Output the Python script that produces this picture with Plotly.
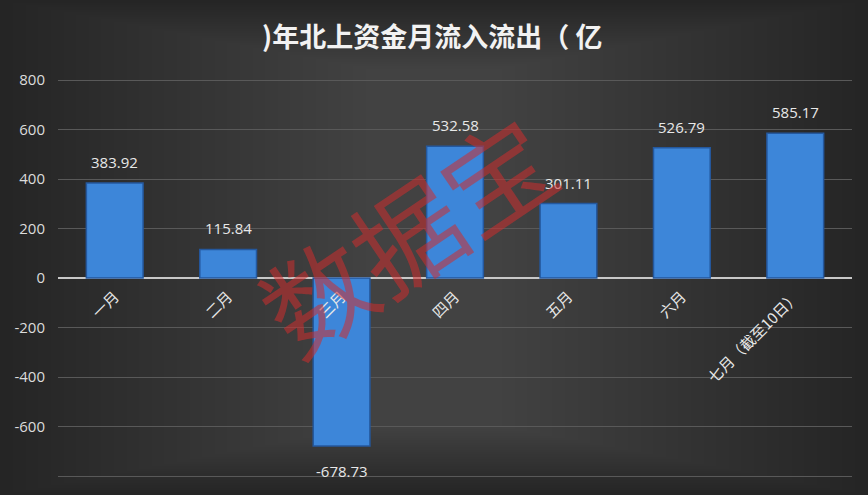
import plotly.graph_objects as go

categories = ["一月", "二月", "三月", "四月", "五月", "六月", "七月（截至10日）"]
values = [383.92, 115.84, -678.73, 532.58, 301.11, 526.79, 585.17]
value_labels = ["383.92", "115.84", "-678.73", "532.58", "301.11", "526.79", "585.17"]
y_tickvals = [-800, -600, -400, -200, 0, 200, 400, 600, 800]
y_ticktext = ["", "-600", "-400", "-200", "0", "200", "400", "600", "800"]
title_text = ")年北上资金月流入流出（ 亿"

W, H = 868, 495
mt, mb, ml, mr = 60, 10, 58, 16
y_lo, y_hi = -836, 881

fig = go.Figure()
fig.add_trace(go.Bar(
    x=categories, y=values, width=0.5,
    marker=dict(color="#3d86d9", line=dict(color="#24589e", width=1.5)),
))

# value labels, offset from the bar ends
for c, v, t in zip(categories, values, value_labels):
    fig.add_annotation(x=c, y=v, text=t, showarrow=False,
                       yanchor="bottom" if v >= 0 else "top",
                       yshift=9 if v >= 0 else -13,
                       font=dict(color="#e8e8e8", size=15, family="Open Sans"))

# background vignette
shapes = []
n = 30
for i in range(n):
    f = i / (2.1 * n)
    shapes.append(dict(type="rect", xref="paper", yref="paper",
                       x0=-ml / (W - ml - mr) + f, x1=1 + mr / (W - ml - mr) - f,
                       y0=-mb / (H - mt - mb) + f * 0.35, y1=1 + mt / (H - mt - mb) - f * 0.35,
                       fillcolor="rgba(255,255,255,0.0085)", line=dict(width=0), layer="below"))

zero_pos = (0 - y_lo) / (y_hi - y_lo) - 6 / (H - mt - mb)

fig.update_layout(
    width=W, height=H,
    margin=dict(l=ml, r=mr, t=mt, b=mb, autoexpand=False),
    paper_bgcolor="#242424", plot_bgcolor="rgba(0,0,0,0)",
    shapes=shapes,
    showlegend=False,
    bargap=0.5,
    font=dict(family="Open Sans, Noto Sans CJK SC", color="#e0e0e0"),
    title=dict(text=title_text, x=0.498, xanchor="center", y=1 - 38 / H, yanchor="middle",
               yref="container", automargin=False,
               font=dict(size=27, color="#f2f2f2", family="Noto Sans CJK SC", weight="bold")),
    xaxis=dict(type="category", anchor="free", position=zero_pos, showline=False,
               showgrid=False, ticks="", tickangle=-45, automargin=False,
               tickfont=dict(size=15, color="#e8e8e8", family="Noto Sans CJK SC"),
               range=[-0.5, 6.5]),
    yaxis=dict(range=[y_lo, y_hi], tickvals=y_tickvals, ticktext=y_ticktext,
               showgrid=True, gridcolor="#595959", gridwidth=1, automargin=False,
               zeroline=True, zerolinecolor="#c8c8c8", zerolinewidth=2,
               tickfont=dict(size=15, color="#dcdcdc", family="Open Sans"),
               ticklabelstandoff=12, showline=False),
)

fig.add_annotation(text="数据宝", xref="paper", yref="paper",
                   x=(405 - ml) / (W - ml - mr), y=1 - (232 - mt) / (H - mt - mb),
                   showarrow=False, textangle=-34,
                   font=dict(size=108, color="rgba(205,45,45,0.55)", family="Noto Sans CJK SC"))

fig.write_html("out.html", config={"displayModeBar": False},
               post_script="document.body.style.margin='0';document.body.style.background='#242424';")
